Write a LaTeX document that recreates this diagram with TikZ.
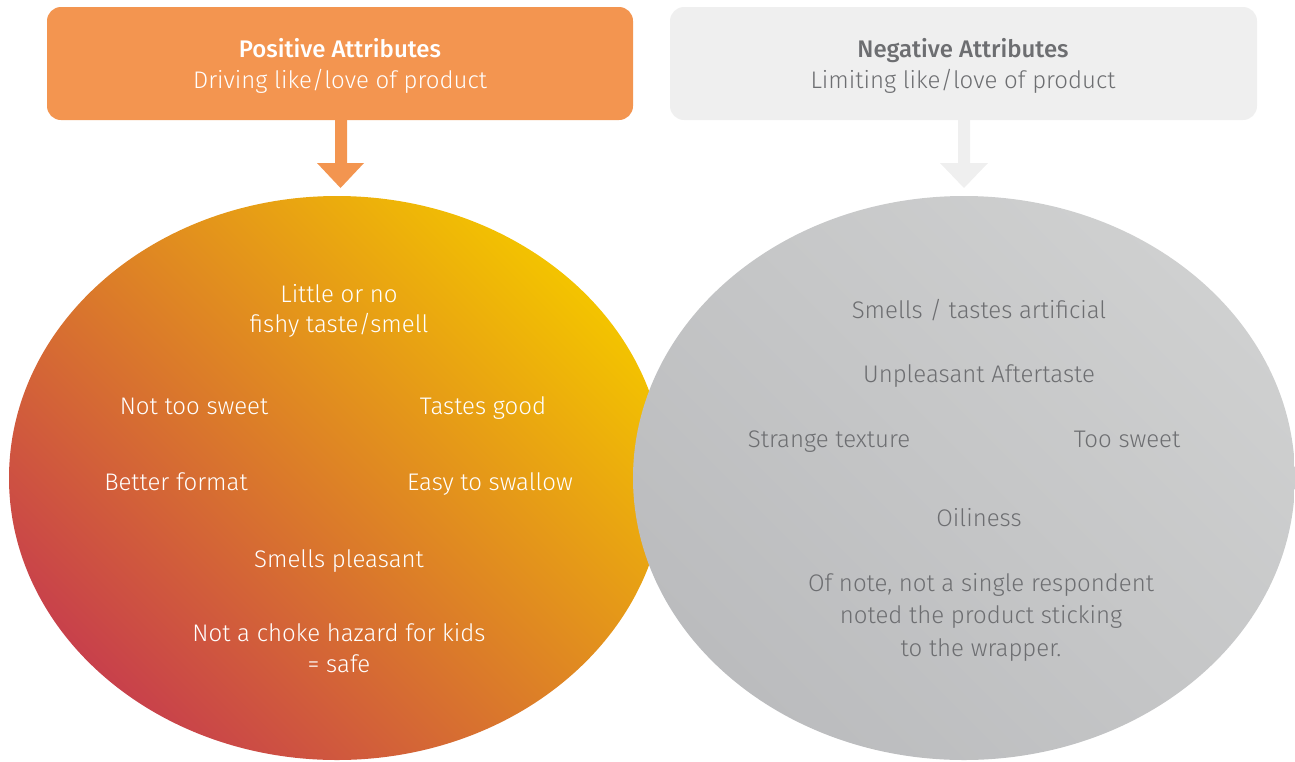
\documentclass[tikz,border=0pt]{standalone}
\usepackage{fontspec}
\setmainfont{Fira Sans}[UprightFont=* Light, BoldFont=* Medium]
\usetikzlibrary{shapes.geometric}
\definecolor{orbox}{HTML}{F39550}
\definecolor{grbox}{HTML}{EFEFEF}
\definecolor{grtext}{HTML}{6D6E71}
\definecolor{gyellow}{HTML}{F3C300}
\definecolor{gorange}{HTML}{E29632}
\definecolor{gred}{HTML}{C8414B}
\definecolor{glight}{HTML}{CFD0D0}
\definecolor{gdark}{HTML}{BBBCBE}
\tikzset{
  lbl/.style={font=\fontsize{24}{28}\selectfont, align=center, inner sep=0pt, text height=17pt, text depth=0pt},
  wtxt/.style={lbl, text=white},
  gtxt/.style={lbl, text=grtext},
}
\begin{document}
\begin{tikzpicture}[x=1pt,y=-1pt]
\useasboundingbox (0,0) rectangle (1295,761);
\clip (0,0) rectangle (1295,761);
% header boxes
\fill[orbox, rounded corners=14pt] (47,7) rectangle (633,120);
\fill[grbox, rounded corners=14pt] (670,7) rectangle (1257,120);
\node[wtxt] (posT) at (340,49) {\bfseries Positive Attributes};
\node[wtxt] (posS) at (340,80) {Driving like/love of product};
\node[gtxt] (negT) at (963,49) {\bfseries Negative Attributes};
\node[gtxt] (negS) at (963,80) {Limiting like/love of product};
% arrows
\fill[orbox] (335,120) -- (347,120) -- (347,163) -- (364,163) -- (340.5,188) -- (317,163) -- (335,163) -- cycle;
\fill[grbox] (958,120) -- (970,120) -- (970,163) -- (988,163) -- (964,188) -- (940,163) -- (958,163) -- cycle;
% ellipses
\shade[top color=gyellow, middle color=gorange, bottom color=gred, shading angle=-45] (337,478) ellipse [x radius=328, y radius=282];
\shade[top color=glight, bottom color=gdark, shading angle=-45] (964,478) ellipse [x radius=331, y radius=282];
% left texts
\node[wtxt] (l1) at (339,294) {Little or no};
\node[wtxt] (l2) at (339,324) {fishy taste/smell};
\node[wtxt] (l3) at (194,406) {Not too sweet};
\node[wtxt] (l4) at (483,406) {Tastes good};
\node[wtxt] (l5) at (176,482) {Better format};
\node[wtxt] (l6) at (490,482) {Easy to swallow};
\node[wtxt] (l7) at (339,559) {Smells pleasant};
\node[wtxt] (l8) at (339,633) {Not a choke hazard for kids};
\node[wtxt] (l9) at (339,664) {= safe};
% right texts
\node[gtxt] (r1) at (979,310) {Smells / tastes artificial};
\node[gtxt] (r2) at (979,374) {Unpleasant Aftertaste};
\node[gtxt] (r3) at (829,439) {Strange texture};
\node[gtxt] (r4) at (1127,439) {Too sweet};
\node[gtxt] (r5) at (979,518) {Oiliness};
\node[gtxt] (r6) at (981,583) {Of note, not a single respondent};
\node[gtxt] (r7) at (981,615) {noted the product sticking};
\node[gtxt] (r8) at (981,648) {to the wrapper.};
\end{tikzpicture}
\end{document}
